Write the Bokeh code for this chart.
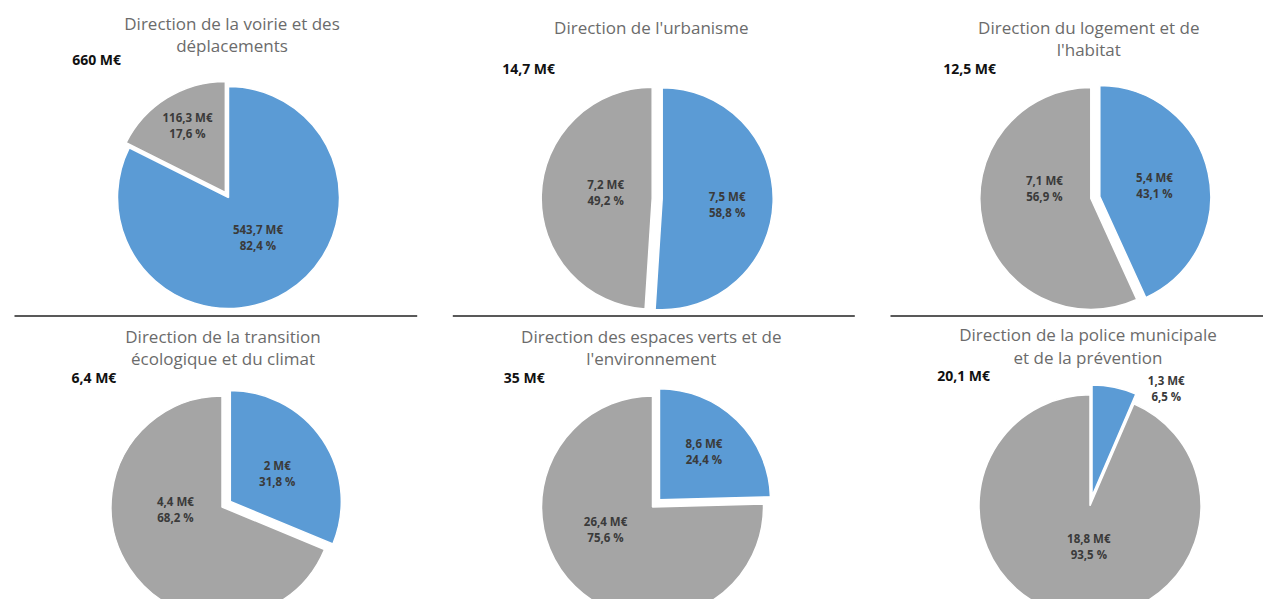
import math
from bokeh.plotting import figure
from bokeh.models import Range1d, ColumnDataSource
from bokeh.core.properties import value
from bokeh.embed import file_html
from bokeh.resources import INLINE

# ---------------- data ----------------
titles = [
    "Direction de la voirie et des\ndéplacements",
    "Direction de l'urbanisme",
    "Direction du logement et de\nl'habitat",
    "Direction de la transition\nécologique et du climat",
    "Direction des espaces verts et de\nl'environnement",
    "Direction de la police municipale\net de la prévention",
]
totals = ["660 M€", "14,7 M€", "12,5 M€", "6,4 M€", "35 M€", "20,1 M€"]
blue_values = [543.7, 7.5, 5.4, 2.0, 8.6, 1.3]
gray_values = [116.3, 7.2, 7.1, 4.4, 26.4, 18.8]
blue_pct_labels = ["82,4 %", "58,8 %", "43,1 %", "31,8 %", "24,4 %", "6,5 %"]
gray_pct_labels = ["17,6 %", "49,2 %", "56,9 %", "68,2 %", "75,6 %", "93,5 %"]

# ---------------- layout (image pixels, y downwards) ----------------
W, H = 1263, 599
PAGE_H = 615
centers = [(228, 197), (656.7, 198), (1090.3, 198), (221.5, 506.5), (652, 506.5), (1089.5, 505.3)]
R = 111
explode_blue = [0, 5, 9.2, 10, 10, 10]
explode_gray = [6, 5, 0, 0, 0, 0]
lab_blue = [(0.444, -5), (0.632, 3), (0.585, 1), (0.582, 2.5), (0.683, -1.5), (1.257, 21.5)]
lab_gray = [(0.745, 2), (0.468, 4.5), (0.427, 24), (0.42, 31), (0.468, 20.5), (0.369, -10)]
title_xy = [(231.5, 22.7), (650.8, 26.7), (1088.3, 26.7), (222.5, 335.7), (650.8, 335.7), (1087.5, 334)]
TITLE_LH = 22.5
total_xy = [(71.7, 59.3), (501.7, 67.7), (942.7, 67.7), (71, 376.7), (503.3, 376.7), (936.7, 375)]
sep_lines = [(14, 416.7, 315.5), (452.3, 854.3, 315.5), (890, 1279, 315.5)]

BLUE = "#5B9BD5"
GRAY = "#A5A5A5"
FONT = "Open Sans"


def fy(s):
    return PAGE_H - s


def fmt(v):
    return f"{v:g}".replace(".", ",") + " M€"


p = figure(width=W, height=H, output_backend="svg", toolbar_location=None,
           x_range=Range1d(0, W), y_range=Range1d(PAGE_H - H, PAGE_H),
           x_axis_type=None, y_axis_type=None, min_border=0)
p.outline_line_color = None
p.background_fill_color = "white"
p.border_fill_color = "white"
p.xgrid.visible = False
p.ygrid.visible = False

wx, wy, ws, we, wc = [], [], [], [], []
lx, ly, l1, l2 = [], [], [], []
for i in range(6):
    b, g = blue_values[i], gray_values[i]
    tb = 360.0 * b / (b + g)  # clockwise from top
    cx, cy = centers[i][0], fy(centers[i][1])
    # blue slice
    mb = tb / 2
    e = explode_blue[i]
    wx.append(cx + e * math.sin(math.radians(mb)))
    wy.append(cy + e * math.cos(math.radians(mb)))
    ws.append(math.radians(90 - tb)); we.append(math.radians(90)); wc.append(BLUE)
    # gray slice
    mg = (tb + 360) / 2
    e = explode_gray[i]
    wx.append(cx + e * math.sin(math.radians(mg)))
    wy.append(cy + e * math.cos(math.radians(mg)))
    ws.append(math.radians(90 - 360)); we.append(math.radians(90 - tb)); wc.append(GRAY)
    # labels
    for (fr, sh), m, v, pct in ((lab_blue[i], mb, b, blue_pct_labels[i]),
                                (lab_gray[i], mg, g, gray_pct_labels[i])):
        a = math.radians(m + sh)
        lx.append(cx + fr * R * math.sin(a))
        ly.append(cy + fr * R * math.cos(a))
        l1.append(fmt(v)); l2.append(pct)

p.wedge(x="x", y="y", radius=R, start_angle="s", end_angle="e", fill_color="c",
        line_color="white", line_width=1.5,
        source=ColumnDataSource(dict(x=wx, y=wy, s=ws, e=we, c=wc)))

lsrc = ColumnDataSource(dict(x=lx, y=ly, a=l1, b=l2))
for col, off in (("a", -8), ("b", 8)):
    p.text(x="x", y="y", text=col, source=lsrc, y_offset=off, text_font=value(FONT),
           text_font_style="bold", text_font_size="11.5px", text_color="#3a3a3a",
           text_align="center", text_baseline="middle")

# titles
tx, ty, tt = [], [], []
for i in range(6):
    for k, line in enumerate(titles[i].split("\n")):
        tx.append(title_xy[i][0]); ty.append(fy(title_xy[i][1] + k * TITLE_LH)); tt.append(line)
p.text(x=tx, y=ty, text=tt, text_font=value(FONT), text_font_size="17px",
       text_color="#6b6b6b", text_align="center", text_baseline="middle")

# totals
p.text(x=[t[0] for t in total_xy], y=[fy(t[1]) for t in total_xy], text=totals,
       text_font=value(FONT), text_font_style="bold", text_font_size="14px",
       text_color="#111111", text_align="left", text_baseline="middle")

# separators
p.segment(x0=[s[0] for s in sep_lines], x1=[s[1] for s in sep_lines],
          y0=[fy(s[2]) for s in sep_lines], y1=[fy(s[2]) for s in sep_lines],
          line_color="#595959", line_width=2)

open("out.html", "w").write(file_html(p, INLINE))
